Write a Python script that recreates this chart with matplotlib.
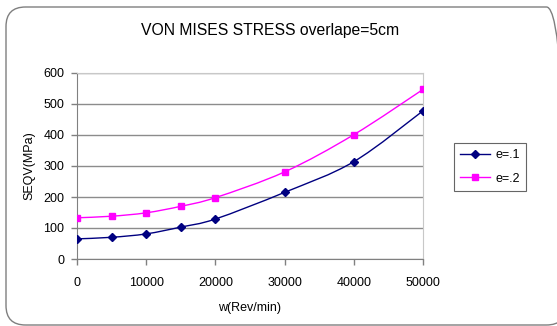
import numpy as np
import matplotlib.pyplot as plt
from matplotlib.path import Path
from matplotlib.patches import PathPatch, FancyBboxPatch

plt.rcParams['font.family'] = ['Liberation Sans', 'DejaVu Sans']

rpm = [0, 5000, 10000, 15000, 20000, 30000, 40000, 50000]
seqv_e1 = [65, 70, 81, 103, 129, 215, 314, 478]
seqv_e2 = [133, 138, 149, 170, 198, 281, 401, 547]
labels = ['e=.1', 'e=.2']
colors = ['#000080', '#ff00ff']
markers = ['D', 's']


def smooth_path(x, y, t=1/6):
    # Catmull-Rom style bezier through the points (like Excel "smoothed line")
    x = np.asarray(x, float)
    y = np.asarray(y, float)
    verts = [(x[0], y[0])]
    codes = [Path.MOVETO]
    n = len(x)
    for i in range(n - 1):
        i0 = max(i - 1, 0)
        i3 = min(i + 2, n - 1)
        c1 = (x[i] + (x[i + 1] - x[i0]) * t, y[i] + (y[i + 1] - y[i0]) * t)
        c2 = (x[i + 1] - (x[i3] - x[i]) * t, y[i + 1] - (y[i3] - y[i]) * t)
        verts += [c1, c2, (x[i + 1], y[i + 1])]
        codes += [Path.CURVE4] * 3
    return Path(verts, codes)


fig = plt.figure(figsize=(5.57, 3.26), dpi=100)
fig.patch.set_facecolor('white')
border = FancyBboxPatch((6 / 557, 1 / 326), 560 / 557, 318 / 326,
                        boxstyle='round,pad=0,rounding_size=0.035',
                        transform=fig.transFigure, fill=False,
                        edgecolor='#7f7f7f', linewidth=1.0, mutation_aspect=557 / 326)
fig.patches.append(border)

ax = fig.add_axes([77 / 557, 67 / 326, 346 / 557, 186 / 326])

for yv, lab, c, m in zip([seqv_e1, seqv_e2], labels, colors, markers):
    ms = 5 if m == 's' else 4.5
    ax.add_patch(PathPatch(smooth_path(rpm, yv), facecolor='none', edgecolor=c, lw=1.0, zorder=3))
    ax.plot(rpm, yv, linestyle='none', marker=m, color=c, markersize=ms, zorder=4)
    ax.plot([], [], color=c, marker=m, markersize=ms, lw=1.0, label=lab)

ax.set_xlim(0, 50000)
ax.set_ylim(0, 600)
ax.set_xticks(range(0, 50001, 10000))
ax.set_yticks(range(0, 601, 100))
ax.yaxis.grid(True, color='#8c8c8c', lw=1.0)
ax.set_axisbelow(True)
for s in ['top', 'right']:
    ax.spines[s].set_color('#c8c8c8')
for s in ['left', 'bottom']:
    ax.spines[s].set_color('#808080')
ax.tick_params(axis='both', labelsize=9, colors='#808080', labelcolor='black', length=4, width=1)
ax.tick_params(axis='x', pad=9)
ax.tick_params(axis='y', pad=5)
ax.set_xlabel('w(Rev/min)', fontsize=9, labelpad=9)
ax.set_ylabel('SEQV(MPa)', fontsize=9, labelpad=6)
fig.text(270 / 557, 1 - 30 / 326, 'VON MISES STRESS overlape=5cm', ha='center', va='center', fontsize=11.3)

leg = ax.legend(loc='center left', bbox_to_anchor=(454 / 557, 159 / 326), bbox_transform=fig.transFigure,
                fontsize=9, frameon=True, fancybox=False, edgecolor='#404040', borderpad=0.5,
                handlelength=2.4, handletextpad=0.4, labelspacing=0.9, borderaxespad=0)
leg.get_frame().set_linewidth(0.8)

fig.savefig('out.png', dpi=100)
